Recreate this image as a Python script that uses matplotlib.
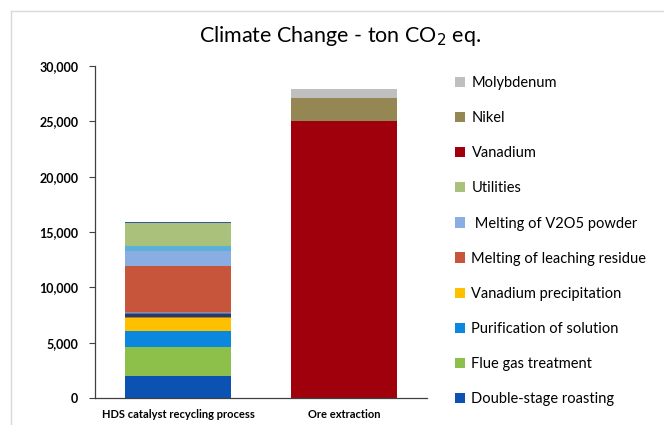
import matplotlib
matplotlib.use("Agg")
import matplotlib.pyplot as plt
from matplotlib.patches import Patch
from matplotlib.ticker import FuncFormatter

plt.rcParams["font.family"] = ["Lato", "DejaVu Sans"]

categories = ["HDS catalyst recycling process", "Ore extraction"]

# stack order bottom -> top; values in ton CO2 eq. per category
series_names = [
    "Double-stage roasting",
    "Flue gas treatment",
    "Purification of solution",
    "Vanadium precipitation",
    "_minor_1",
    "_minor_2",
    "_minor_3",
    "_minor_4",
    "Melting of leaching residue",
    " Melting of V2O5 powder",
    "_minor_5",
    "Utilities",
    "_minor_6",
    "Vanadium",
    "Nikel",
    "Molybdenum",
]
series_values = [
    [2000, 0],
    [2650, 0],
    [1400, 0],
    [1150, 0],
    [80, 0],
    [280, 0],
    [140, 0],
    [100, 0],
    [4150, 0],
    [1360, 0],
    [400, 0],
    [2070, 0],
    [100, 0],
    [0, 25000],
    [0, 2100],
    [0, 850],
]
series_colors = [
    "#0B52B3",
    "#8CC04B",
    "#0B88DE",
    "#FFC000",
    "#C0701F",
    "#1F3E6B",
    "#4A7AA6",
    "#B27C92",
    "#C6553B",
    "#8AAEE2",
    "#5BB1D9",
    "#A9C17B",
    "#2F5A9E",
    "#A0000B",
    "#948753",
    "#BFBFBF",
]

fig = plt.figure(figsize=(6.64, 4.25), dpi=100)
ax = fig.add_axes([0.143, 0.0635, 0.5, 0.781])

x = range(len(categories))
bottoms = [0.0] * len(categories)
for name, vals, color in zip(series_names, series_values, series_colors):
    ax.bar(x, vals, bottom=bottoms, width=0.64, color=color, linewidth=0)
    bottoms = [b + v for b, v in zip(bottoms, vals)]

ax.set_xlim(-0.5, 1.5)
ax.set_ylim(0, 30000)
ax.set_yticks(range(0, 30001, 5000))
ax.yaxis.set_major_formatter(FuncFormatter(lambda v, _: f"{int(v):,}"))
ax.set_xticks(list(x))
ax.set_xticklabels(categories, fontsize=8, fontweight="bold")
for lab in ax.get_yticklabels():
    lab.set_fontweight("bold")
    lab.set_fontsize(9)
ax.tick_params(axis="x", length=0, pad=8)
ax.tick_params(axis="y", length=4, width=0.8, color="#404040", pad=8)
for side in ("top", "right"):
    ax.spines[side].set_visible(False)
for side in ("left", "bottom"):
    ax.spines[side].set_color("#404040")
    ax.spines[side].set_linewidth(0.9)

fig.text(0.512, 0.915, "Climate Change - ton CO$_2$ eq.", ha="center", va="center",
         fontsize=15.5)

# legend: labelled series only, top to bottom
legend_items = [(n, c) for n, c in zip(series_names, series_colors) if not n.startswith("_")]
handles = [Patch(facecolor=c, edgecolor="none", label=n) for n, c in reversed(legend_items)]
fig.legend(handles=handles, loc="upper left", bbox_to_anchor=(0.676, 0.835),
           frameon=False, fontsize=10.5, handlelength=0.7, handleheight=0.7,
           handletextpad=0.45, labelspacing=1.45, borderaxespad=0)

# outer chart-area border
fig.add_artist(plt.Line2D([0.016, 0.016], [0, 0.975], color="#D9D9D9", linewidth=1))
fig.add_artist(plt.Line2D([0.016, 1.0], [0.975, 0.975], color="#D9D9D9", linewidth=1))

fig.savefig("out.png", dpi=100)
